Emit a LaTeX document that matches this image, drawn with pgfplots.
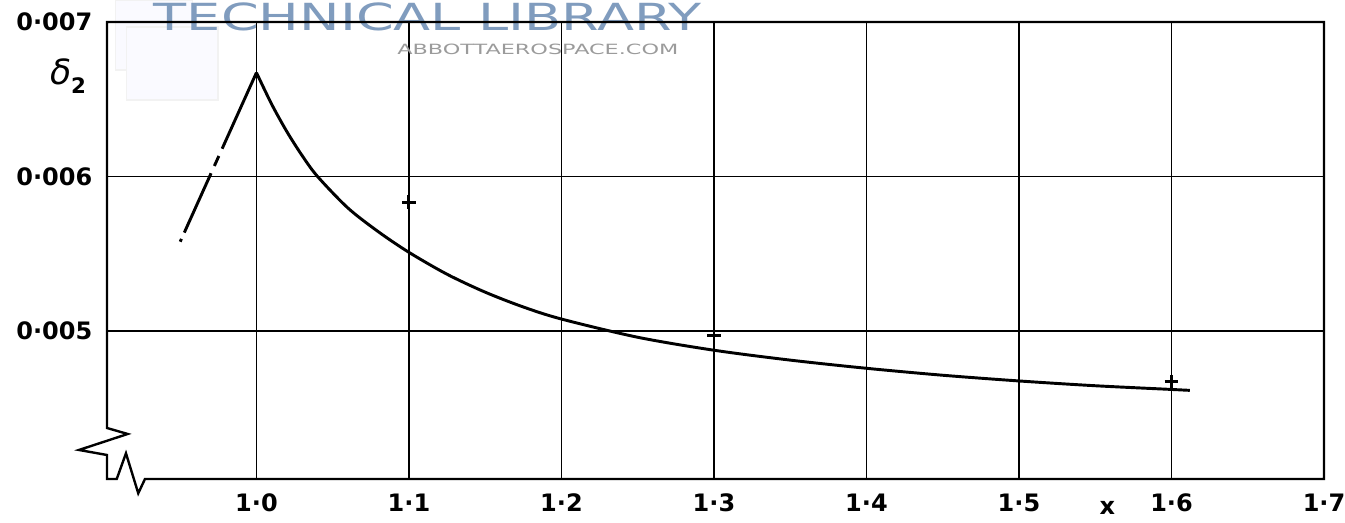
\documentclass[border=0pt]{standalone}
\usepackage{pgfplots}
\pgfplotsset{compat=1.18}
\usepackage{fontspec}
\setmainfont{DejaVu Sans}
\definecolor{wmblue}{RGB}{128,156,190}
\definecolor{wmgray}{RGB}{155,155,155}
\begin{document}
\begin{tikzpicture}
\path[use as bounding box] (-40.125pt,-16.5pt) rectangle (464.25pt,179.625pt);
\begin{axis}[
  at={(0pt,0pt)}, anchor=south west,
  scale only axis, width=456.375pt, height=171.375pt,
  xmin=0.902, xmax=1.7, ymin=0.00404, ymax=0.007,
  xtick={1.0,1.1,1.2,1.3,1.4,1.5,1.6,1.7},
  xticklabels={1·0,1·1,1·2,1·3,1·4,1·5,1·6,1·7},
  ytick={0.005,0.006,0.007},
  yticklabels={0·005,0·006,0·007},
  scaled y ticks=false,
  grid=major,
  major grid style={black, line width=0.6pt},
  major tick length=0pt,
  axis line style={draw=none},
  ticklabel style={font=\fontsize{9}{10}\selectfont\bfseries},
  xticklabel style={yshift=-2pt},
  yticklabel style={xshift=-2pt},
  clip=false,
]
% watermark
\fill[blue!2, draw=black!5] (rel axis cs:0.0066,1.0481) rectangle (rel axis cs:0.0699,0.8950);
\fill[blue!2, draw=black!5] (rel axis cs:0.0164,0.9891) rectangle (rel axis cs:0.0912,0.8293);
\node[text=wmblue, font=\fontsize{14}{14}\selectfont] at (rel axis cs:0.2634,1.012) {\scalebox{1.45}[1]{TECHNICAL LIBRARY}};
\node[text=wmgray, font=\fontsize{5.3}{6}\selectfont] at (rel axis cs:0.354,0.941) {\scalebox{1.58}[1]{ABBOTTAEROSPACE.COM}};

% main curve
\addplot[black, line width=1.1pt, smooth] coordinates {
(1.000,0.006672) (1.010,0.006467) (1.020,0.006289) (1.030,0.006134)
(1.040,0.006000) (1.060,0.005795) (1.080,0.005641) (1.100,0.005508)
(1.125,0.005366) (1.150,0.005250) (1.175,0.005154) (1.200,0.005076)
(1.250,0.004958) (1.300,0.004874) (1.350,0.004810) (1.400,0.004757)
(1.450,0.004712) (1.500,0.004675) (1.550,0.004644) (1.600,0.004620)
(1.612,0.004614)
};
% dashed rising branch
\addplot[black, line width=1.1pt, dash pattern=on 31.3pt off 3pt on 4.1pt off 3pt on 24.4pt off 2.6pt on 2pt off 10pt] coordinates {
(1.000,0.006672) (0.950,0.005577)
};
% experimental points
\addplot[only marks, mark=+, mark size=2.6pt, black, line width=1.1pt] coordinates {
(1.1,0.005832) (1.3,0.004968) (1.6,0.004670)
};

% frame with axis break
\draw[black, line width=0.9pt, line join=miter]
 (rel axis cs:0,0.1116) -- (rel axis cs:0,1) -- (rel axis cs:1,1) -- (rel axis cs:1,0)
 -- (rel axis cs:0.0312,0) -- (rel axis cs:0.0257,-0.0313) -- (rel axis cs:0.0156,0.0562)
 -- (rel axis cs:0.0080,0) -- (rel axis cs:0,0) -- (rel axis cs:0,0.0525)
 -- (rel axis cs:-0.023,0.0635) -- (rel axis cs:0.017,0.0985) -- cycle;

% axis labels
\node[font=\fontsize{13}{13}\selectfont] at (rel axis cs:-0.0320,0.8818) {\textit{δ}\raisebox{-0.45ex}{\fontsize{8}{8}\selectfont\bfseries 2}};
\node[font=\fontsize{9}{10}\selectfont\bfseries, anchor=north] at (axis cs:1.558,0.00404) [yshift=-5pt] {x};
\end{axis}
\end{tikzpicture}
\end{document}
